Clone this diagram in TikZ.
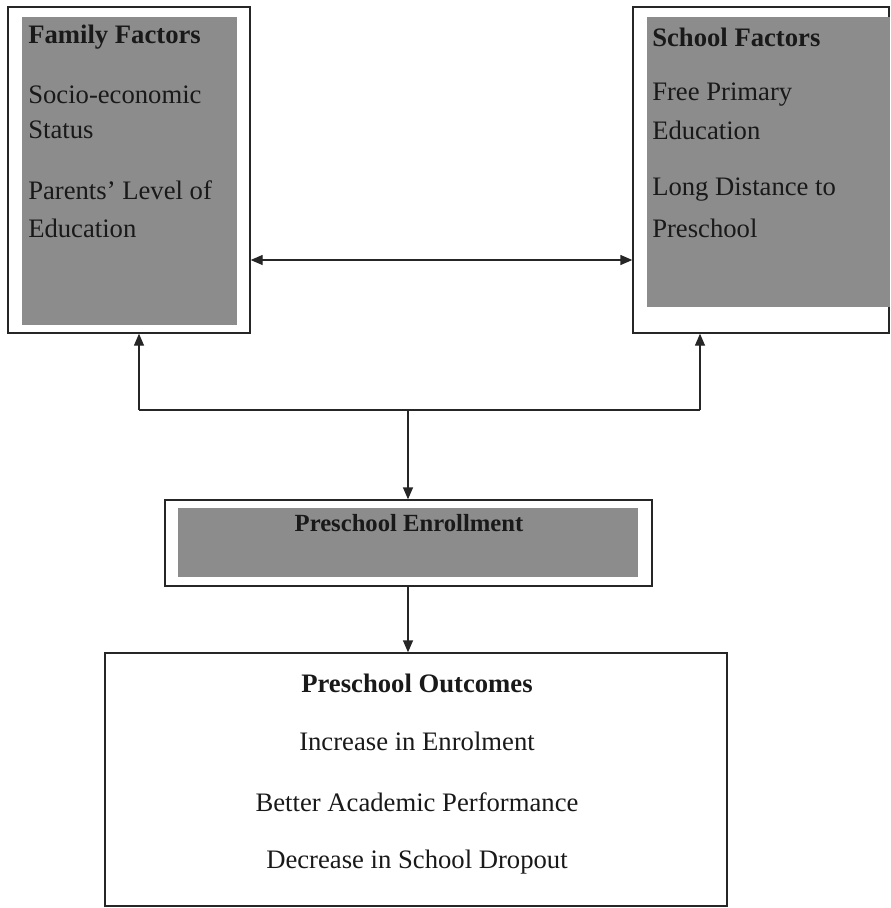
\documentclass[tikz,border=0pt]{standalone}
\usepackage{fontspec}
\setmainfont{Liberation Serif}
\usetikzlibrary{fit,arrows.meta}
\begin{document}
\begin{tikzpicture}[x=0.75pt,y=-0.75pt,
  outerbox/.style={draw=black!85,line width=1pt,inner sep=0pt,fill=white},
  shade/.style={fill=black!45,draw=none,inner sep=0pt},
  txt/.style={inner sep=0pt,text=black!90,font=\fontsize{20}{24}\selectfont},
  btxt/.style={txt,font=\fontsize{20}{24}\selectfont\bfseries},
  conn/.style={draw=black!85,line width=1pt},
  tip/.style={-{Triangle[length=9pt,width=7.5pt]}},
  tips/.style={{Triangle[length=9pt,width=7.5pt]}-{Triangle[length=9pt,width=7.5pt]}}]
\useasboundingbox (0,0) rectangle (891,908);
% boxes
\node[outerbox,fit={(8,7) (250,333)}] (fam) {};
\node[shade,fit={(22,17) (237,325)}] (famin) {};
\node[outerbox,fit={(633,7) (889,333)}] (sch) {};
\node[shade,fit={(647,17) (890,307)}] (schin) {};
\node[outerbox,fit={(165,500) (652,586)}] (enr) {};
\node[shade,fit={(178,508) (638,577)}] (enrin) {};
\node[outerbox,fit={(105,653) (727,906)}] (out) {};
% family texts
\node[btxt,anchor=west] (f0) at (28,37) {Family Factors};
\node[txt,anchor=west] (f1) at (28,95) {Socio-economic};
\node[txt,anchor=west] (f2) at (28,130) {Status};
\node[txt,anchor=west] (f3) at (28,190) {Parents’ Level of};
\node[txt,anchor=west] (f4) at (28,228) {Education};
% school texts
\node[btxt,anchor=west] (s0) at (652,37) {School Factors};
\node[txt,anchor=west] (s1) at (652,95) {Free Primary};
\node[txt,anchor=west] (s2) at (652,130) {Education};
\node[txt,anchor=west] (s3) at (652,190) {Long Distance to};
\node[txt,anchor=west] (s4) at (652,228) {Preschool};
% enrollment
\node[btxt,font=\fontsize{18.5}{22}\selectfont\bfseries] (e0) at (409,523) {Preschool Enrollment};
% outcomes
\node[btxt] (o0) at (417,683) {Preschool Outcomes};
\node[txt] (o1) at (417,741) {Increase in Enrolment};
\node[txt] (o2) at (417,802) {Better Academic Performance};
\node[txt] (o3) at (417,862) {Decrease in School Dropout};
% connectors
\coordinate (hy) at (0,260);
\coordinate (jl) at (139,410);
\coordinate (jm) at (408,410);
\coordinate (jr) at (700,410);
\draw[conn,tips] (fam.east |- hy) -- (sch.west |- hy);
\draw[conn] (jl) -- (jr);
\draw[conn,tip] (jl) -- (fam.south -| jl);
\draw[conn,tip] (jr) -- (sch.south -| jr);
\draw[conn,tip] (jm) -- (enr.north -| jm);
\draw[conn,tip] (enr.south -| jm) -- (out.north -| jm);
\end{tikzpicture}
\end{document}
